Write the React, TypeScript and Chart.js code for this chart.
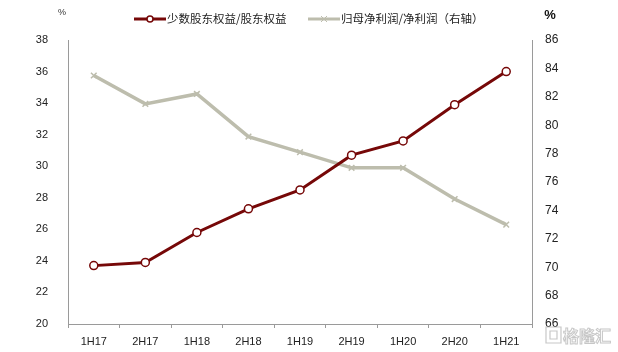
import React, { useEffect, useRef } from "react";
import { Chart, registerables } from "chart.js";

Chart.register(...registerables);

const categories = ["1H17", "2H17", "1H18", "2H18", "1H19", "2H19", "1H20", "2H20", "1H21"];
const minorityRatio = [23.7, 23.9, 25.8, 27.3, 28.5, 30.7, 31.6, 33.9, 36.0];
const parentProfitRatio = [83.5, 81.5, 82.2, 79.2, 78.1, 77.0, 77.0, 74.8, 73.0];
const seriesNames = ["少数股东权益/股东权益", "归母净利润/净利润（右轴）"];

const RED = "#760808";
const GRAY = "#bdbdad";
const AXIS = "#9a9a9a";
const FONT = "'Liberation Sans', Arial, sans-serif";
const CJK = "'Noto Sans CJK SC', sans-serif";

const overlay = {
  id: "overlay",
  afterDraw(chart: any) {
    const ctx = chart.ctx;
    ctx.save();
    // unit labels
    ctx.fillStyle = "#333";
    ctx.font = `9px ${FONT}`;
    ctx.textAlign = "center";
    ctx.textBaseline = "middle";
    ctx.fillText("%", 62, 13);
    ctx.font = `bold 13px ${FONT}`;
    ctx.fillStyle = "#111";
    ctx.fillText("%", 550, 15);

    // legend
    const ly = 19;
    ctx.lineWidth = 3;
    ctx.strokeStyle = RED;
    ctx.beginPath();
    ctx.moveTo(134, ly);
    ctx.lineTo(166, ly);
    ctx.stroke();
    ctx.beginPath();
    ctx.arc(150, ly, 3, 0, Math.PI * 2);
    ctx.fillStyle = "#fff";
    ctx.fill();
    ctx.lineWidth = 1.5;
    ctx.stroke();
    ctx.fillStyle = "#222";
    ctx.font = `11.5px ${CJK}`;
    ctx.textAlign = "left";
    ctx.fillText(seriesNames[0], 167, ly);

    ctx.lineWidth = 3;
    ctx.strokeStyle = GRAY;
    ctx.beginPath();
    ctx.moveTo(308, ly);
    ctx.lineTo(340, ly);
    ctx.stroke();
    ctx.lineWidth = 1;
    ctx.beginPath();
    ctx.moveTo(321, ly - 3);
    ctx.lineTo(327, ly + 3);
    ctx.moveTo(327, ly - 3);
    ctx.lineTo(321, ly + 3);
    ctx.stroke();
    ctx.fillStyle = "#222";
    ctx.fillText(seriesNames[1], 341, ly);

    // watermark (outlined)
    ctx.strokeStyle = "rgba(185,185,185,0.8)";
    ctx.fillStyle = "rgba(255,255,255,0.9)";
    ctx.lineWidth = 1.2;
    ctx.beginPath();
    ctx.rect(546, 327, 15, 16);
    ctx.fill();
    ctx.stroke();
    ctx.beginPath();
    ctx.rect(550, 331, 7, 8);
    ctx.stroke();
    ctx.font = `bold 16px ${CJK}`;
    ctx.lineWidth = 1;
    ctx.fillText("格隆汇", 563, 336);
    ctx.strokeText("格隆汇", 563, 336);
    ctx.restore();
  },
};

export default function App() {
  const ref = useRef<HTMLCanvasElement | null>(null);
  useEffect(() => {
    document.body.style.margin = "0";
    const chart = new Chart(ref.current as HTMLCanvasElement, {
      type: "line",
      data: {
        labels: categories,
        datasets: [
          {
            label: seriesNames[0],
            data: minorityRatio,
            yAxisID: "y",
            borderColor: RED,
            borderWidth: 3,
            pointStyle: "circle",
            pointRadius: 4,
            pointBackgroundColor: "#fff",
            pointBorderColor: RED,
            pointBorderWidth: 1.5,
            tension: 0,
          },
          {
            label: seriesNames[1],
            data: parentProfitRatio,
            yAxisID: "y1",
            borderColor: GRAY,
            borderWidth: 3.5,
            pointStyle: "crossRot",
            pointRadius: 4,
            pointBorderColor: GRAY,
            pointBorderWidth: 1.5,
            tension: 0,
          },
        ],
      },
      options: {
        animation: false,
        responsive: false,
        maintainAspectRatio: false,
        layout: { padding: { top: 40, left: 0, right: 0, bottom: 0 } },
        plugins: { legend: { display: false }, tooltip: { enabled: false } },
        scales: {
          x: {
            offset: true,
            grid: { display: true, drawOnChartArea: false, drawTicks: true, tickLength: 4, color: AXIS, offset: true },
            border: { color: AXIS, width: 1 },
            ticks: { color: "#222", font: { family: FONT, size: 11 }, padding: 7, maxRotation: 0 },
            afterFit: (s: any) => { s.height = 28; },
          },
          y: {
            position: "left",
            min: 20,
            max: 38,
            grid: { display: false, drawTicks: false },
            border: { color: AXIS, width: 1 },
            ticks: { stepSize: 2, color: "#222", font: { family: FONT, size: 11 }, padding: 20 },
            afterFit: (s: any) => { s.width = 68; },
          },
          y1: {
            position: "right",
            min: 66,
            max: 86,
            grid: { display: false, drawTicks: false },
            border: { color: AXIS, width: 1 },
            ticks: { stepSize: 2, color: "#222", font: { family: FONT, size: 12 }, padding: 13 },
            afterFit: (s: any) => { s.width = 86; },
          },
        },
      },
      plugins: [overlay],
    });
    return () => chart.destroy();
  }, []);
  return (
    <div style={{ position: "fixed", left: 0, top: 0, width: 618, height: 352, background: "#fff" }}>
      <canvas ref={ref} width={618} height={352} style={{ width: 618, height: 352 }} />
    </div>
  );
}
